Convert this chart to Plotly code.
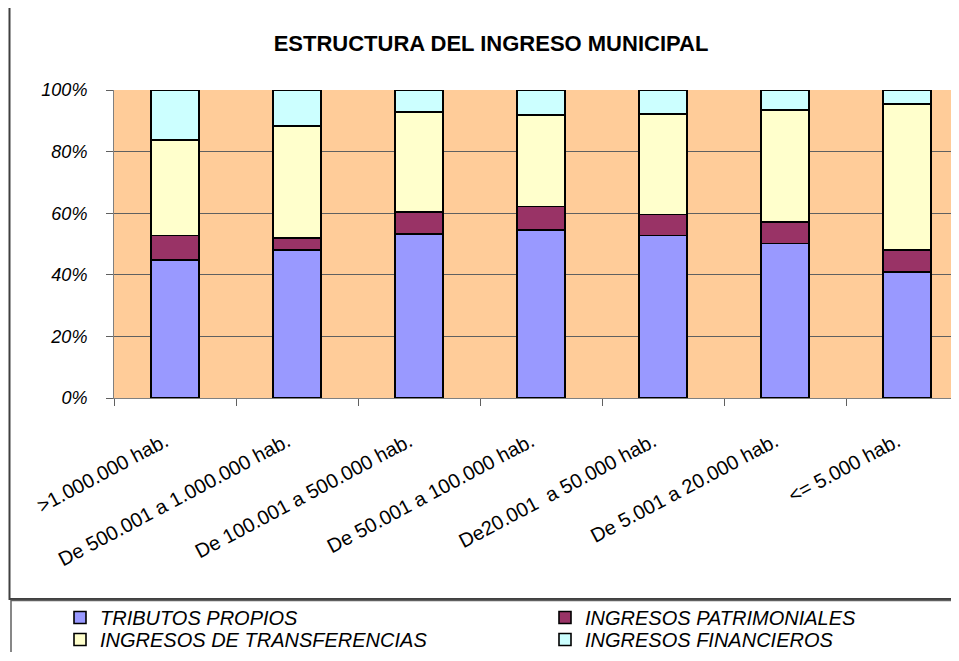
import plotly.graph_objects as go

# Data (percent of municipal income)
categories = [
    ">1.000.000 hab.",
    "De 500.001 a 1.000.000 hab.",
    "De 100.001 a 500.000 hab.",
    "De 50.001 a 100.000 hab.",
    "De20.001  a 50.000 hab.",
    "De 5.001 a 20.000 hab.",
    "<= 5.000 hab.",
]
tributos_propios = [44.8, 48.1, 53.2, 54.5, 52.7, 50.1, 40.9]
ingresos_patrimoniales = [7.9, 3.9, 7.2, 7.7, 6.9, 7.0, 7.2]
ingresos_transferencias = [31.1, 36.4, 32.5, 29.6, 32.7, 36.5, 47.4]
ingresos_financieros = [16.2, 11.6, 7.1, 8.2, 7.7, 6.4, 4.5]
y_ticks = [0, 20, 40, 60, 80, 100]
y_tick_labels = ["0%", "20%", "40%", "60%", "80%", "100%"]

# the page body adds an 8px margin, so reference pixels are shifted by it;
# figure is kept small enough that the page doesn't scroll
O = 8
W, H = 959 - 2 * O, 661 - 2 * O - 1
L, T, B = 114 - O, 90 - O, 398 - O
cat_w = (968 - 114) / 7
plot_h = B - T

def px(x):
    return (x - O - L) / (W - L)

def py(y):
    return (B - (y - O)) / plot_h

series = [
    ("TRIBUTOS PROPIOS", tributos_propios, "#9999FF", "legend", 60, 598),
    ("INGRESOS PATRIMONIALES", ingresos_patrimoniales, "#993366", "legend2", 545, 598),
    ("INGRESOS DE TRANSFERENCIAS", ingresos_transferencias, "#FFFFCC", "legend3", 60, 620),
    ("INGRESOS FINANCIEROS", ingresos_financieros, "#CCFFFF", "legend4", 545, 620),
]

font = "Liberation Sans, Arial, sans-serif"

fig = go.Figure()
legends = {}
for name, vals, col, leg, lx, ly in series:
    fig.add_trace(go.Bar(
        x=categories, y=vals, name=name, width=0.39, legend=leg,
        marker=dict(color=col, line=dict(color="black", width=1.6)),
    ))
    legends[leg] = dict(
        x=px(lx), y=py(ly), xanchor="left", yanchor="top",
        font=dict(size=20, family=font, style="italic"),
        bgcolor="rgba(0,0,0,0)",
    )

fig.update_layout(
    width=W, height=H,
    barmode="stack",
    margin=dict(l=L, r=0, t=T, b=H - B, autoexpand=False),
    paper_bgcolor="white",
    plot_bgcolor="#FFCC99",
    font=dict(family=font, color="black"),
    title=dict(
        text="<b>ESTRUCTURA DEL INGRESO MUNICIPAL</b>",
        font=dict(size=22, family=font, color="black"),
        x=px(491), xref="paper", xanchor="center",
        y=1 - (43 - O) / H, yref="container", yanchor="middle",
    ),
    showlegend=True,
    **legends,
)

fig.update_yaxes(
    range=[0, 100],
    tickvals=y_ticks, ticktext=y_tick_labels,
    tickfont=dict(size=18, family=font, style="italic"),
    showgrid=True, gridcolor="#606060", gridwidth=1,
    showline=True, linecolor="#808080", linewidth=1,
    ticks="outside", ticklen=7, tickcolor="#606060",
    ticklabelstandoff=15,
    zeroline=False,
)
fig.update_xaxes(
    type="category",
    range=[-0.5, -0.5 + (W - L) / cat_w],
    tickson="boundaries",
    tickvals=categories,
    ticktext=[c + "&nbsp;&nbsp;" for c in categories],
    ticks="outside", ticklen=7, tickcolor="#606060",
    showline=True, linecolor="#808080", linewidth=1,
    showgrid=False,
    tickangle=-28,
    tickfont=dict(size=20, family=font),
    ticklabelstandoff=18,
)

# chart frame and legend frame
fig.add_shape(type="rect", xref="paper", yref="paper",
              x0=px(9.5), x1=px(990), y0=py(5.5), y1=py(599),
              line=dict(color="#404040", width=2), layer="below")
fig.add_shape(type="rect", xref="paper", yref="paper",
              x0=px(11), x1=px(990), y0=py(600.5), y1=py(700),
              line=dict(color="#606060", width=1.5), layer="below")

fig.write_html("out.html")
